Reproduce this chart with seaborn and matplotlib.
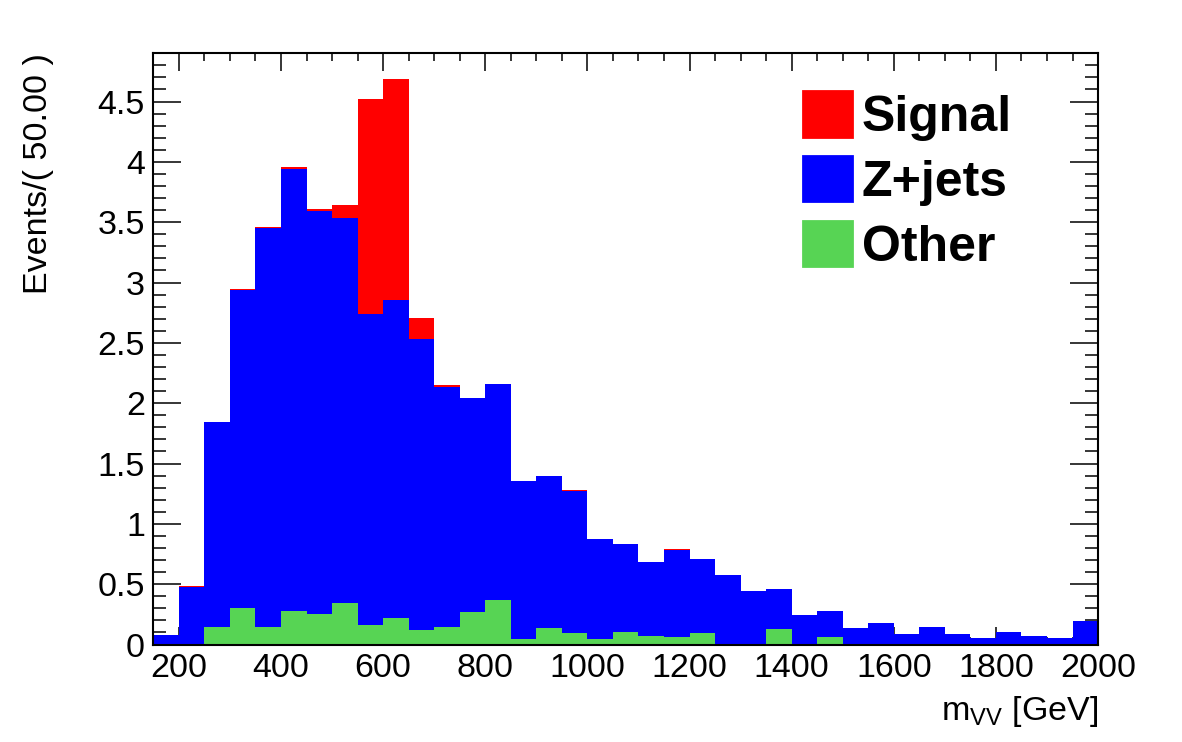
import numpy as np
import pandas as pd
import seaborn as sns
import matplotlib.pyplot as plt
from matplotlib.patches import Patch
from matplotlib.ticker import MultipleLocator

# 50 GeV bins from 150 to 2000
bin_edges = list(range(150, 2001, 50))
samples = ['Signal', 'Z+jets', 'Other']

other = [0.0, 0.0, 0.148, 0.300, 0.148, 0.280, 0.253, 0.342, 0.162, 0.222,
         0.120, 0.148, 0.272, 0.369, 0.046, 0.139, 0.093, 0.046, 0.104, 0.073,
         0.066, 0.095, 0.0, 0.0, 0.129, 0.0, 0.066, 0.0, 0.0, 0.0,
         0.0, 0.0, 0.0, 0.0, 0.0, 0.0, 0.0]
zjets = [0.079, 0.477, 1.692, 2.634, 3.300, 3.660, 3.341, 3.195, 2.578, 2.637,
         2.413, 1.990, 1.775, 1.791, 1.310, 1.258, 1.180, 0.829, 0.729, 0.614,
         0.718, 0.611, 0.576, 0.446, 0.331, 0.242, 0.214, 0.137, 0.181, 0.087,
         0.145, 0.087, 0.054, 0.104, 0.070, 0.054, 0.195]
signal = [0.0, 0.008, 0.005, 0.011, 0.011, 0.017, 0.017, 0.102, 1.783, 1.828,
          0.177, 0.014, 0.0, 0.0, 0.0, 0.0, 0.006, 0.0, 0.0, 0.0,
          0.008, 0.0, 0.0, 0.0, 0.0, 0.0, 0.0, 0.0, 0.0, 0.0,
          0.0, 0.0, 0.0, 0.0, 0.0, 0.0, 0.0]

colors = {'Signal': '#ff0000', 'Z+jets': '#0000ff', 'Other': '#57d454'}

centers = [lo + 25 for lo in bin_edges[:-1]]
rows = []
for name, vals in zip(samples, [signal, zjets, other]):
    for c, v in zip(centers, vals):
        rows.append({'mvv': c, 'events': v, 'sample': name})
df = pd.DataFrame(rows)

sns.set_style('ticks')
plt.rcParams['font.family'] = ['Liberation Sans', 'DejaVu Sans']
plt.rcParams['text.color'] = 'black'
plt.rcParams['xtick.color'] = 'black'
plt.rcParams['ytick.color'] = 'black'
plt.rcParams['axes.labelcolor'] = 'black'

fig = plt.figure(figsize=(11.82, 7.42), dpi=100)
ax = fig.add_axes([0.1297, 0.1314, 0.7993, 0.7976])

sns.histplot(data=df, x='mvv', weights='events', hue='sample', hue_order=samples,
             multiple='stack', bins=bin_edges, element='step', fill=True,
             palette=colors, alpha=1, linewidth=0, legend=False, ax=ax)

ax.set_xlim(150, 2000)
ax.set_ylim(0, 4.905)

ax.xaxis.set_major_locator(MultipleLocator(200))
ax.xaxis.set_minor_locator(MultipleLocator(50))
ax.yaxis.set_major_locator(MultipleLocator(0.5))
ax.yaxis.set_minor_locator(MultipleLocator(0.1))
ax.yaxis.set_major_formatter(plt.FuncFormatter(lambda v, p: f'{v:g}'))

ax.tick_params(axis='both', which='both', direction='in', top=True, right=True,
               labelsize=24.5, width=1.1, color='black', labelcolor='black')
ax.tick_params(axis='x', which='major', length=13, pad=6)
ax.tick_params(axis='x', which='minor', length=6)
ax.tick_params(axis='y', which='major', length=20, pad=6)
ax.tick_params(axis='y', which='minor', length=9.5)
for s in ax.spines.values():
    s.set_linewidth(1.5)
    s.set_color('black')

ax.set_xlabel(r'm$_{\mathregular{VV}}$ [GeV]', fontsize=24.5, loc='right')
ax.xaxis.set_label_coords(1.0, -0.083)
ax.set_ylabel('Events/( 50.00 )', fontsize=24.5, loc='top')
ax.yaxis.set_label_coords(-0.105, 1.0)

handles = [Patch(facecolor=colors[s], edgecolor=colors[s], linewidth=2,
                 joinstyle='round', label=s) for s in samples]
ax.legend(handles=handles, loc='upper left', bbox_to_anchor=(0.679, 0.877),
          bbox_transform=fig.transFigure, frameon=False, borderpad=0,
          prop={'weight': 'bold', 'size': 36}, handlelength=0.98,
          handleheight=1.02, handletextpad=0.2, labelspacing=0.3,
          borderaxespad=0)

fig.savefig('out.png', dpi=100)
